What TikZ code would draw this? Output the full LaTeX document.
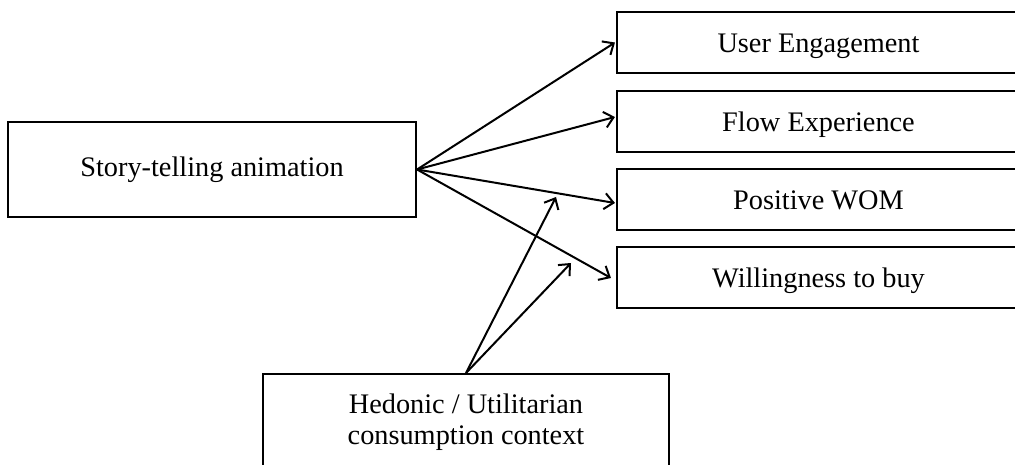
\documentclass[tikz,border=0pt]{standalone}
\usepackage{fontspec}
\setmainfont{Liberation Serif}
\usetikzlibrary{arrows.meta,calc}
\begin{document}
\begin{tikzpicture}[x=1pt,y=-1pt,
  box/.style={draw=black, line width=2.1pt, rectangle, inner sep=0pt,
    font=\fontsize{28.3}{32}\selectfont, text height=19.5pt, text depth=6pt},
  outbox/.style={box, minimum width=403pt, minimum height=61pt, text depth=0pt},
  link/.style={line width=2pt, -{Straight Barb[length=9pt,width=16pt,line width=2pt]}}
]
\useasboundingbox (0,0) rectangle (1015,465);
\clip (0,0) rectangle (1015,465);

\node[box, minimum width=408pt, minimum height=95pt] (story) at (212,169.5) {Story-telling animation};

\node[outbox] (ue) at (818.5,42.5) {User Engagement};
\node[outbox] (fe) at (818.5,121.5) {Flow Experience};
\node[outbox] (wom) at (818.5,199.5) {Positive WOM};
\node[outbox] (wtb) at (818.5,277.5) {Willingness to buy};

\node[box, minimum width=406pt, minimum height=140pt, anchor=north] (hed) at (466,373) {};
\node[font=\fontsize{28.3}{31}\selectfont, align=center, anchor=base, inner sep=0pt] (hedtext) at (466,444) {Hedonic / Utilitarian\\consumption context};

\coordinate (m1) at (556,197);
\coordinate (m2) at (571,263);

\draw[link] (story.east) -- ($(ue.west)+(-1,0)$);
\draw[link] (story.east) -- ($(fe.west)+(-1,-4.5)$);
\draw[link] (story.east) -- ($(wom.west)+(-1,3.5)$);
\draw[link] (story.east) -- ($(wtb.west)+(-5,0.5)$);

\draw[link] (hed.north) -- (m1);
\draw[link] (hed.north) -- (m2);
\end{tikzpicture}
\end{document}
